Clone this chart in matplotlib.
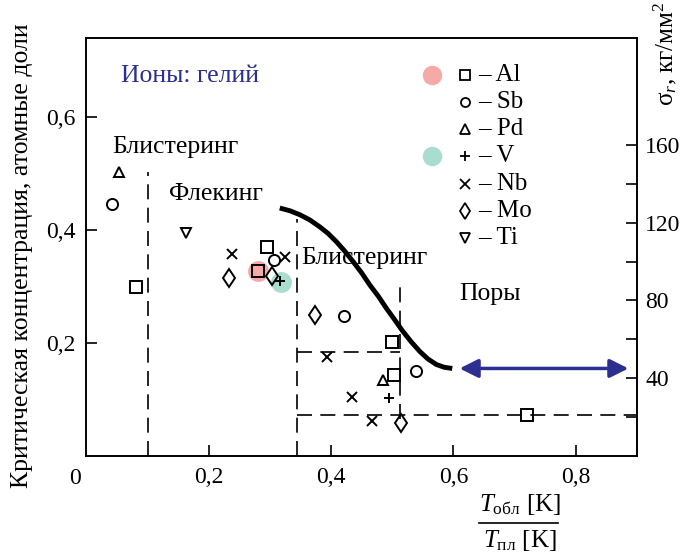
import matplotlib
matplotlib.use("Agg")
import matplotlib.pyplot as plt

plt.rcParams['font.family'] = ['Liberation Serif', 'DejaVu Serif']
plt.rcParams['mathtext.fontset'] = 'custom'
plt.rcParams['mathtext.rm'] = 'Liberation Serif'
plt.rcParams['mathtext.it'] = 'Liberation Serif:italic'

# data
al_x = [0.081, 0.295, 0.280, 0.499, 0.502, 0.721]
al_y = [0.299, 0.370, 0.328, 0.201, 0.144, 0.073]
sb_x = [0.042, 0.306, 0.421, 0.538]
sb_y = [0.446, 0.347, 0.247, 0.151]
pd_x = [0.053, 0.485]
pd_y = [0.502, 0.135]
v_x = [0.316, 0.495]
v_y = [0.310, 0.103]
nb_x = [0.238, 0.324, 0.393, 0.434, 0.466]
nb_y = [0.358, 0.352, 0.175, 0.105, 0.062]
mo_x = [0.233, 0.303, 0.374, 0.514]
mo_y = [0.316, 0.319, 0.250, 0.058]
ti_x = [0.162]
ti_y = [0.395]

curve_x = [0.316, 0.333, 0.349, 0.365, 0.381, 0.395, 0.408, 0.422, 0.436, 0.450,
           0.463, 0.477, 0.490, 0.504, 0.517, 0.531, 0.545, 0.558, 0.572, 0.585, 0.598]
curve_y = [0.439, 0.434, 0.427, 0.418, 0.406, 0.394, 0.380, 0.363, 0.344, 0.324,
           0.303, 0.283, 0.262, 0.241, 0.221, 0.202, 0.185, 0.172, 0.162, 0.157, 0.155]

pink_pt = (0.280, 0.328)
teal_pt = (0.318, 0.308)

x_ticks = [0.2, 0.4, 0.6, 0.8]
x_labels = ['0,2', '0,4', '0,6', '0,8']
y_ticks = [0.2, 0.4, 0.6]
y_labels = ['0,2', '0,4', '0,6']
r_ticks = [20, 40, 60, 80, 100, 120, 140, 160]
r_labels = ['', '40', '', '80', '', '120', '', '160']

elements = ['Al', 'Sb', 'Pd', 'V', 'Nb', 'Mo', 'Ti']
markers = ['s', 'o', '^', '+', 'x', 'd', 'v']
series = [(al_x, al_y), (sb_x, sb_y), (pd_x, pd_y), (v_x, v_y),
          (nb_x, nb_y), (mo_x, mo_y), (ti_x, ti_y)]
sizes = {'s': 8, 'o': 8, '^': 7.5, '+': 7.5, 'x': 6.5, 'd': 9.5, 'v': 7.5}

pink = '#f5aaa8'
teal = '#a9ddd0'
blue = '#2b2f8f'

fig = plt.figure(figsize=(6.82, 5.53), dpi=100)
ax = fig.add_axes([0.1268, 0.1754, 0.8072, 0.7559])
ax.set_xlim(0, 0.9)
ax.set_ylim(0, 0.74)

# highlight circles
ax.plot(*pink_pt, 'o', ms=15, color=pink, mec='none', zorder=1)
ax.plot(*teal_pt, 'o', ms=15, color=teal, mec='none', zorder=1)

for (xs, ys), m in zip(series, markers):
    ax.plot(xs, ys, m, ls='none', ms=sizes[m],
            mfc='none', mec='black', mew=1.4, zorder=3)

# dashed region borders
dash = dict(color='black', lw=1.2, dashes=(9, 5))
ax.plot([0.1, 0.1], [0, 0.503], **dash)
ax.plot([0.344, 0.344], [0, 0.42], **dash)
ax.plot([0.513, 0.513], [0.065, 0.303], **dash)
ax.plot([0.344, 0.513], [0.184, 0.184], **dash)
ax.plot([0.344, 0.9], [0.072, 0.072], **dash)

ax.plot(curve_x, curve_y, color='black', lw=3.5, solid_capstyle='butt')

ax.annotate('', xy=(0.886, 0.155), xytext=(0.610, 0.155),
            arrowprops=dict(arrowstyle='<|-|>', color=blue, lw=2.5,
                            mutation_scale=28, shrinkA=0, shrinkB=0))

fs = 18.5
ax.text(0.169, 0.672, 'Ионы: гелий', color=blue, fontsize=fs, ha='center', va='center')
ax.text(0.146, 0.547, 'Блистеринг', fontsize=fs, ha='center', va='center')
ax.text(0.211, 0.464, 'Флекинг', fontsize=fs, ha='center', va='center')
ax.text(0.455, 0.351, 'Блистеринг', fontsize=fs, ha='center', va='center')
ax.text(0.660, 0.287, 'Поры', fontsize=fs, ha='center', va='center')

# legend drawn by hand
for i, (name, m) in enumerate(zip(elements, markers)):
    yy = 0.9115 - i * 0.065
    ax.plot(0.6876, yy, m, transform=ax.transAxes, ms=6.5 if m != 'd' else 8,
            mfc='none', mec='black', mew=1.3, clip_on=False)
    ax.text(0.7112, yy, '– ' + name, transform=ax.transAxes, fontsize=18,
            va='center', ha='left')
ax.plot(0.627, 0.9115, 'o', transform=ax.transAxes, ms=14, color=pink, mec='none')
ax.plot(0.627, 0.9115 - 3 * 0.065, 'o', transform=ax.transAxes, ms=14, color=teal, mec='none')

ax.set_xticks(x_ticks)
ax.set_xticklabels(x_labels, fontsize=17)
ax.set_yticks(y_ticks)
ax.set_yticklabels(y_labels, fontsize=17)
ax.tick_params(direction='in', length=8, width=1.2, pad=8)
for s in ax.spines.values():
    s.set_linewidth(1.2)

ax.set_ylabel('Критическая концентрация, атомные доли', fontsize=18.5)
ax.yaxis.set_label_coords(-0.097, 0.48)

ax2 = ax.twinx()
ax2.set_ylim(0, 215)
ax2.set_yticks(r_ticks)
ax2.set_yticklabels(r_labels, fontsize=17)
ax2.tick_params(direction='in', length=8, width=1.2, pad=6)
for s in ax2.spines.values():
    s.set_linewidth(1.2)

fig.text(0.975, 0.997, r'σ$_r$, кг/мм$^2$', rotation=90, fontsize=18,
         ha='center', va='top')

fig.text(0.110, 0.135, '0', fontsize=17, ha='center', va='center')

# x label as a fraction
fig.text(0.762, 0.087, r'$T_{\mathrm{обл}}$ [K]', fontsize=18, ha='center', va='center')
fig.add_artist(plt.Line2D([0.703, 0.818], [0.054, 0.054], color='black', lw=1.2))
fig.text(0.762, 0.022, r'$T_{\mathrm{пл}}$ [K]', fontsize=18, ha='center', va='center')

fig.savefig('out.png', dpi=100)
